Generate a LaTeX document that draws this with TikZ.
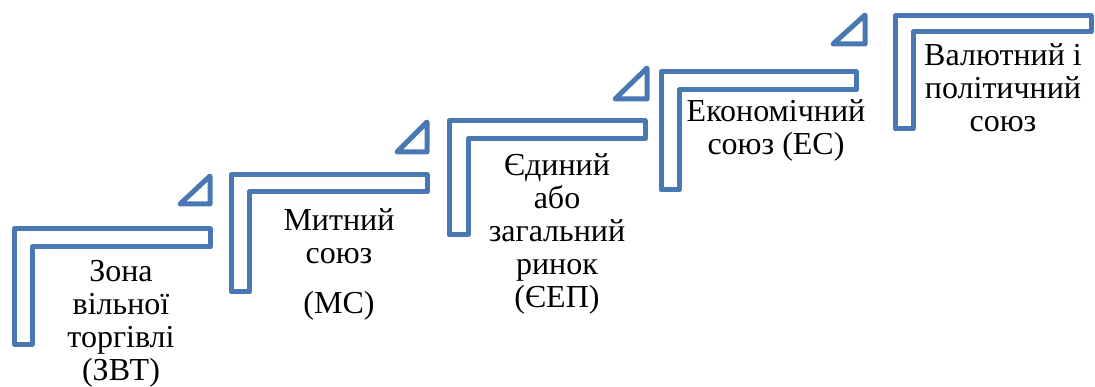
\documentclass[tikz,border=0pt]{standalone}
\usepackage{fontspec}
\setmainfont{Liberation Serif}
\newfontfamily\stepfont{Liberation Serif}
\usepackage{tikz}
\usetikzlibrary{positioning}

\definecolor{stepblue}{RGB}{74,120,178}

\begin{document}
\begin{tikzpicture}[x=1pt, y=-1pt,
		stepline/.style={draw=stepblue, line width=5pt, line join=round, fill=white},
		steptext/.style={align=center, anchor=base, font=\stepfont\fontsize{32}{33}\selectfont}]
		\useasboundingbox (0,0) rectangle (1095,387);
		
		% Step 1
		\draw[stepline] (14,229) -- (210,229) -- (210,247) -- (32,247) -- (32,344) -- (14,344) -- cycle;
		\draw[stepline] (180,204) -- (210,204) -- (210,176) -- cycle;
		\node[steptext] (zvt) at (121,380) {Зона\\вільної\\торгівлі\\(ЗВТ)};
		
		% Step 2
		\draw[stepline] (231,175) -- (427,175) -- (427,192) -- (249,192) -- (249,292) -- (231,292) -- cycle;
		\draw[stepline] (397,152) -- (427,152) -- (427,122) -- cycle;
		\node[steptext] (ms) at (339,313) {Митний\\союз\\[17pt](МС)};
		
		% Step 3
		\draw[stepline] (449,121) -- (645,121) -- (645,139) -- (468,139) -- (468,235) -- (449,235) -- cycle;
		\draw[stepline] (615,99) -- (647,99) -- (647,68) -- cycle;
		\node[steptext] (yep) at (557,308) {Єдиний\\або\\загальний\\ринок\\(ЄЕП)};
		
		% Step 4
		\draw[stepline] (661,72) -- (856,72) -- (856,90) -- (679,90) -- (679,190) -- (661,190) -- cycle;
		\draw[stepline] (833,44) -- (865,44) -- (865,15) -- cycle;
		\node[steptext] (es) at (776,155) {Економічний\\союз (ЕС)};
		
		% Step 5
		\draw[stepline] (895,16) -- (1091,16) -- (1091,32) -- (913,32) -- (913,129) -- (895,129) -- cycle;
		\node[steptext] (vps) at (1003,132) {Валютний і\\політичний\\союз};
	\end{tikzpicture}
\end{document}
